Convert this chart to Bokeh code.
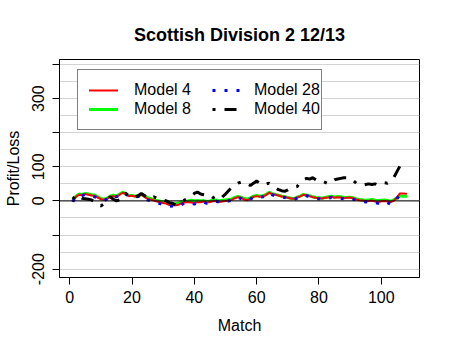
from bokeh.plotting import figure
from bokeh.models import (Range1d, FixedTicker, Legend, LegendItem, Span)
from bokeh.embed import file_html
from bokeh.resources import INLINE

title = "Scottish Division 2 12/13"
matches = list(range(1, 109))

model_4 = [0, 12, 18, 17, 20, 18, 16, 15, 10, 5, 3, 6, 12, 14, 11, 18, 24, 20, 14, 15,
           13, 14, 18, 12, 6, 4, 1, -2, -4, -6, -8, -12, -13, -13, -11, -6, -5, -3, -5, -6,
           -4, -4, -2, -5, -3, -1, 0, -3, -2, 0, 1, 3, 8, 11, 9, 4, 2, 6, 12, 14,
           12, 13, 17, 24, 20, 18, 16, 13, 12, 9, 7, 6, 10, 13, 18, 16, 14, 11, 9, 8,
           7, 9, 10, 12, 9, 11, 10, 8, 9, 10, 7, 4, 2, 1, -1, 0, 1, -2, -4, -1,
           0, -2, -3, 0, 10, 22, 22, 21]
model_8 = [1, 14, 20, 19, 22, 20, 18, 17, 12, 7, 5, 8, 14, 17, 14, 20, 25, 21, 16, 16,
           14, 15, 19, 14, 9, 7, 3, 1, -1, -3, -5, -9, -10, -8, -6, -2, -2, 0, 2, 0,
           1, 0, 1, -2, 0, 2, 3, 0, 2, 3, 4, 6, 10, 13, 11, 7, 5, 9, 14, 16,
           14, 15, 19, 25, 21, 19, 17, 14, 12, 10, 8, 7, 11, 14, 19, 17, 15, 12, 10, 9,
           8, 10, 12, 14, 11, 13, 12, 10, 10, 11, 9, 6, 4, 3, 2, 3, 4, 2, 1, 2,
           3, 1, -1, 3, 8, 15, 14, 14]
model_28 = [-2, 12, 17, 16, 19, 17, 14, 12, 8, 3, 1, 5, 12, 15, 12, 18, 25, 20, 14, 14,
            12, 13, 16, 9, 3, 0, -3, -6, -8, -10, -12, -16, -15, -14, -16, -10, -6, -5, -7, -9,
            -6, -5, -3, -7, -4, -2, -1, -4, -2, 0, 0, 2, 7, 10, 7, 2, 0, 5, 11, 14,
            11, 12, 16, 23, 18, 14, 12, 11, 10, 7, 5, 4, 8, 12, 17, 15, 12, 9, 7, 6,
            5, 7, 8, 10, 7, 9, 8, 6, 7, 8, 5, 2, 0, -1, -3, -2, -2, -5, -7, -3,
            -2, -5, -10, -4, 6, 19, 21, 20]
model_40 = [5, 18, 14, 8, 6, 5, 3, -3, -8, -15, -8, 2, 12, 5, 0, 3, 20, 22, 14, 13,
            12, 15, 22, 16, 8, 6, 12, 8, 2, 3, 0, -5, -7, -12, -6, -2, 3, 8, 14, 22,
            26, 20, 18, 16, 18, 10, 5, 3, 12, 20, 30, 40, 46, 52, 55, 56, 50, 45, 52, 58,
            52, 46, 50, 52, 45, 38, 33, 30, 28, 32, 38, 40, 42, 55, 62, 66, 64, 68, 62, 56,
            58, 54, 50, 55, 62, 64, 66, 68, 68, 68, 60, 52, 48, 46, 48, 50, 48, 50, 46, 48,
            53, 52, 58, 68, 85, 102, 97, 95]

x_ticks = [0, 20, 40, 60, 80, 100]
y_ticks = [-200, -100, 0, 100, 200, 300, 400]
y_labels_shown = ["-200", "", "0", "100", "", "300", ""]
grid_levels = [-200, -150, -100, -50, 0, 50, 100, 150, 200, 250, 300, 350, 400]

FONT = "Liberation Sans"

p = figure(width=450, height=350, output_backend="svg", toolbar_location=None,
           x_range=Range1d(-3.28, 112.28), y_range=Range1d(-224.5, 414.5),
           min_border_left=59, min_border_right=31, min_border_top=59,
           min_border_bottom=73, background_fill_color="white",
           border_fill_color="white")

p.title.text = title
p.title.align = "center"
p.title.text_font = FONT
p.title.text_font_size = "18px"
p.title.text_font_style = "bold"
p.title.text_color = "black"
p.title.standoff = 30

p.outline_line_color = "black"
p.outline_line_width = 1
p.xgrid.visible = False
p.ygrid.ticker = FixedTicker(ticks=grid_levels)
p.ygrid.grid_line_color = "#d3d3d3"
p.ygrid.grid_line_width = 1

for ax in (p.xaxis[0], p.yaxis[0]):
    ax.axis_line_color = "black"
    ax.major_tick_line_color = "black"
    ax.major_tick_out = 7
    ax.major_tick_in = 0
    ax.minor_tick_line_color = None
    ax.major_label_text_font = FONT
    ax.major_label_text_font_size = "16px"
    ax.major_label_text_color = "black"
    ax.major_label_text_line_height = 1.0
    ax.axis_label_text_font = FONT
    ax.axis_label_text_font_size = "16px"
    ax.axis_label_text_font_style = "normal"
    ax.axis_label_text_color = "black"
    ax.axis_label_text_line_height = 1.0

p.xaxis.ticker = FixedTicker(ticks=x_ticks)
p.xaxis.axis_label = "Match"
p.xaxis.major_label_standoff = 6
p.xaxis.axis_label_standoff = 11

p.yaxis.ticker = FixedTicker(ticks=y_ticks)
p.yaxis.major_label_overrides = {t: l for t, l in zip(y_ticks, y_labels_shown)}
p.yaxis.major_label_orientation = "vertical"
p.yaxis.axis_label = "Profit/Loss"
p.yaxis.major_label_standoff = 8
p.yaxis.axis_label_standoff = 8

p.add_layout(Span(location=0, dimension="width", line_color="black", line_width=1))

r8 = p.line(matches, model_8, line_color="#00ff00", line_width=3, line_join="round", line_cap="round")
r4 = p.line(matches, model_4, line_color="red", line_width=2, line_join="round", line_cap="round")
r28 = p.line(matches, model_28, line_color="blue", line_width=3, line_dash="3 9")
r40 = p.line(matches, model_40, line_color="black", line_width=3, line_dash="3 9 12 9")


def style_legend(lg):
    lg.label_text_font = FONT
    lg.label_text_font_size = "16px"
    lg.label_text_color = "black"
    lg.glyph_width = 29
    lg.glyph_height = 16
    lg.label_height = 16
    lg.spacing = 1
    lg.padding = 11
    lg.margin = 0


# left column carries the full legend box
legend_a = Legend(items=[LegendItem(label="Model 4", renderers=[r4]),
                         LegendItem(label="Model 8", renderers=[r8])],
                  location=(18, 147))
style_legend(legend_a)
legend_a.label_standoff = 16
legend_a.label_width = 176
legend_a.border_line_color = "black"
legend_a.border_line_width = 1
legend_a.background_fill_color = "white"
legend_a.background_fill_alpha = 1

legend_b = Legend(items=[LegendItem(label="Model 28", renderers=[r28]),
                         LegendItem(label="Model 40", renderers=[r40])],
                  location=(153, 159))
style_legend(legend_b)
legend_b.label_standoff = 13
legend_b.border_line_color = None
legend_b.background_fill_alpha = 0

p.add_layout(legend_a)
p.add_layout(legend_b)

open("out.html", "w").write(file_html(p, INLINE))
